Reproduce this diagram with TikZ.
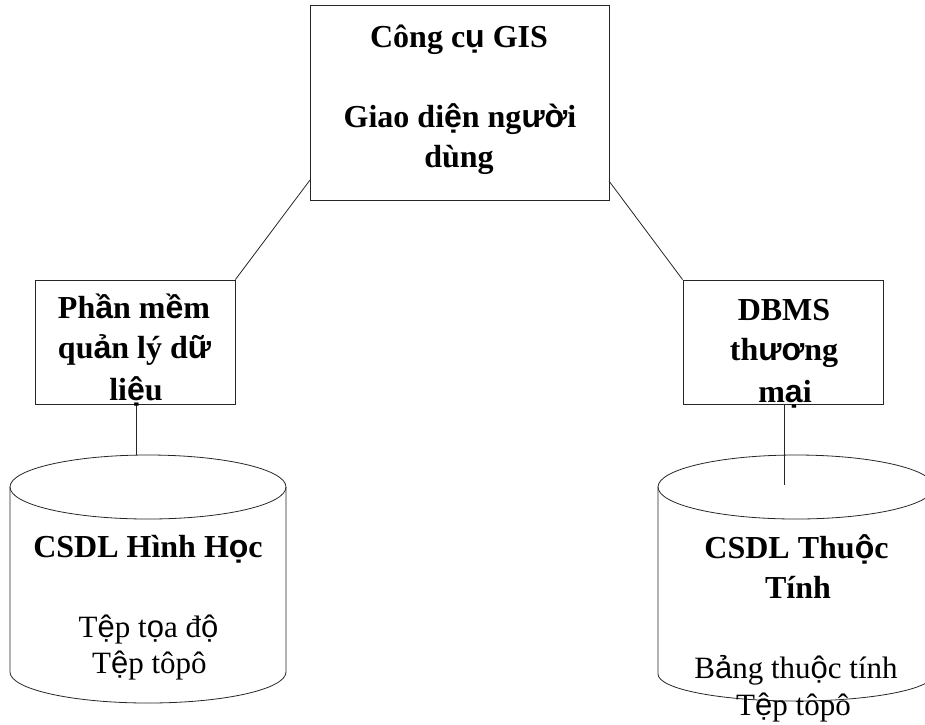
\documentclass[tikz,border=0pt]{standalone}
\usepackage{fontspec}
\setmainfont{Liberation Serif}
\newfontfamily\fbk{Liberation Sans}
\newcommand{\fk}[1]{{\fbk #1}}
\begin{document}
\begin{tikzpicture}[x=1pt,y=-1pt,
  box/.style={draw=black!85,line width=0.9pt,minimum width=#1,inner sep=0pt},
  wire/.style={draw=black!85,line width=0.8pt},
  title/.style={anchor=base,inner sep=0pt,font=\fontsize{32}{40}\selectfont\bfseries},
  plain/.style={anchor=base,inner sep=0pt,font=\fontsize{31}{36}\selectfont}]
\useasboundingbox (0,0) rectangle (925,724);
\clip (0,0) rectangle (925,724);

% boxes
\node[box=299pt,minimum height=195pt] (gis) at (459.5,102.5) {};
\node[box=200pt,minimum height=124pt] (soft) at (135,342) {};
\node[box=200pt,minimum height=124pt] (dbms) at (783,342) {};

% attachment points
\coordinate (gisL) at (310,180);
\coordinate (gisR) at (609,181);
\coordinate (softB) at (136,404);
\coordinate (dbmsB) at (784,404);
\coordinate (geoTop) at (136,455);
\coordinate (attEnd) at (784,485);

% cylinders
\draw[wire] (148,487) ellipse [x radius=138pt, y radius=32pt];
\draw[wire] (10,487) -- (10,672) arc[start angle=180,end angle=360,x radius=138pt,y radius=31pt] -- (286,487);
\draw[wire] (796,487) ellipse [x radius=138pt, y radius=32pt];
\draw[wire] (658,487) -- (658,674) arc[start angle=180,end angle=360,x radius=138pt,y radius=27pt] -- (934,487);

% connectors
\draw[wire] (gisL) -- (soft.north east);
\draw[wire] (gisR) -- (dbms.north west);
\draw[wire] (softB) -- (geoTop);
\draw[wire] (dbmsB) -- (attEnd);

% texts
\node[title] (t1) at (459,47) {Công c\fk{ụ} GIS};
\node[title] (t2) at (460,127) {Giao di\fk{ệ}n ng\fk{ườ}i};
\node[title] (t3) at (459,167) {dùng};

\node[title] (s1) at (134,318) {Ph\fk{ầ}n m\fk{ề}m};
\node[title] (s2) at (134.5,358) {qu\fk{ả}n lý d\fk{ữ}};
\node[title] (s3) at (136,400) {li\fk{ệ}u};

\node[title] (d1) at (784,320) {DBMS};
\node[title] (d2) at (784,360) {th\fk{ươ}ng};
\node[title] (d3) at (785,402) {m\fk{ạ}i};

\node[title] (g1) at (148,557) {CSDL Hình H\fk{ọ}c};
\node[plain] (g2) at (148.5,637) {T\fk{ệ}p t\fk{ọ}a đ\fk{ộ}};
\node[plain] (g3) at (149.5,673) {T\fk{ệ}p tôpô};

\node[title] (a1) at (796.5,558) {CSDL Thu\fk{ộ}c};
\node[title] (a2) at (798,598) {Tính};
\node[plain] (a3) at (796,678) {B\fk{ả}ng thu\fk{ộ}c tính};
\node[plain] (a4) at (793.5,715) {T\fk{ệ}p tôpô};
\end{tikzpicture}
\end{document}
